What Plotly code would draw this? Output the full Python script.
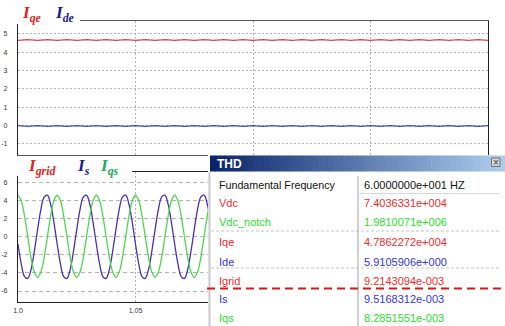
import plotly.graph_objects as go

# ---------------- data ----------------
t_top = [round(1.0 + i / 240, 6) for i in range(49)]
iqe = [4.64, 4.68, 4.64, 4.68, 4.64, 4.68, 4.64, 4.68, 4.64, 4.68,
       4.64, 4.68, 4.64, 4.68, 4.64, 4.68, 4.64, 4.68, 4.64, 4.68,
       4.64, 4.68, 4.64, 4.68, 4.64, 4.68, 4.64, 4.68, 4.64, 4.68,
       4.64, 4.68, 4.64, 4.68, 4.64, 4.68, 4.64, 4.68, 4.64, 4.68,
       4.64, 4.68, 4.64, 4.68, 4.64, 4.68, 4.64, 4.68, 4.64]
ide = [0.00, -0.04, 0.00, -0.04, 0.00, -0.04, 0.00, -0.04, 0.00, -0.04,
       0.00, -0.04, 0.00, -0.04, 0.00, -0.04, 0.00, -0.04, 0.00, -0.04,
       0.00, -0.04, 0.00, -0.04, 0.00, -0.04, 0.00, -0.04, 0.00, -0.04,
       0.00, -0.04, 0.00, -0.04, 0.00, -0.04, 0.00, -0.04, 0.00, -0.04,
       0.00, -0.04, 0.00, -0.04, 0.00, -0.04, 0.00, -0.04, 0.00]

t_bot = [round(1.0 + i / 720, 6) for i in range(73)]
i_s = [-0.8, -3.0, -4.4, -4.6, -3.6, -1.6, 0.8, 3.0, 4.4, 4.6, 3.6, 1.6,
       -0.8, -3.0, -4.4, -4.6, -3.6, -1.6, 0.8, 3.0, 4.4, 4.6, 3.6, 1.6,
       -0.8, -3.0, -4.4, -4.6, -3.6, -1.6, 0.8, 3.0, 4.4, 4.6, 3.6, 1.6,
       -0.8, -3.0, -4.4, -4.6, -3.6, -1.6, 0.8, 3.0, 4.4, 4.6, 3.6, 1.6,
       -0.8, -3.0, -4.4, -4.6, -3.6, -1.6, 0.8, 3.0, 4.4, 4.6, 3.6, 1.6,
       -0.8, -3.0, -4.4, -4.6, -3.6, -1.6, 0.8, 3.0, 4.4, 4.6, 3.6, 1.6,
       -0.8]
i_qs = [4.6, 4.0, 2.3, 0.0, -2.3, -3.9, -4.5, -3.9, -2.3, 0.0, 2.3, 4.0,
        4.6, 4.0, 2.3, 0.0, -2.3, -3.9, -4.5, -3.9, -2.3, 0.0, 2.3, 4.0,
        4.6, 4.0, 2.3, 0.0, -2.3, -3.9, -4.5, -3.9, -2.3, 0.0, 2.3, 4.0,
        4.6, 4.0, 2.3, 0.0, -2.3, -3.9, -4.5, -3.9, -2.3, 0.0, 2.3, 4.0,
        4.6, 4.0, 2.3, 0.0, -2.3, -3.9, -4.5, -3.9, -2.3, 0.0, 2.3, 4.0,
        4.6, 4.0, 2.3, 0.0, -2.3, -3.9, -4.5, -3.9, -2.3, 0.0, 2.3, 4.0,
        4.6]

top_yticks = [5, 4, 3, 2, 1, 0, -1]
bot_yticks = [6, 4, 2, 0, -2, -4, -6]
x_ticks = [1.0, 1.05, 1.10, 1.15]
x_ticktext = ["1.0", "1.05", "", ""]   # the later labels are hidden by the THD window

fund_label = "Fundamental Frequency"
fund_value = "6.0000000e+001 HZ"
thd_names = ["Vdc", "Vdc_notch", "Iqe", "Ide", "Igrid", "Is", "Iqs"]
thd_values = ["7.4036331e+004", "1.9810071e+006", "4.7862272e+004",
              "5.9105906e+000", "9.2143094e-003", "9.5168312e-003",
              "8.2851551e-003"]

# ---------------- styling ----------------
W, H = 505, 326
RED_T, GRN_T, BLU_T = "#f42a2a", "#2cdc2c", "#3434dc"
thd_colors = [RED_T, GRN_T, RED_T, BLU_T, RED_T, BLU_T, GRN_T]


def px(x):
    return x / W


def py(y):
    return 1 - y / H


fig = go.Figure()
fig.add_trace(go.Scatter(x=t_top, y=iqe, mode="lines", line=dict(color="#d04848", width=1.2),
                         xaxis="x", yaxis="y", showlegend=False))
fig.add_trace(go.Scatter(x=t_top, y=ide, mode="lines", line=dict(color="#3c48b0", width=1.2),
                         xaxis="x", yaxis="y", showlegend=False))
fig.add_trace(go.Scatter(x=t_bot, y=i_s, mode="lines", line=dict(color="#4a2eb0", width=1.3, shape="spline"),
                         xaxis="x2", yaxis="y2", showlegend=False))
fig.add_trace(go.Scatter(x=t_bot, y=i_qs, mode="lines", line=dict(color="#4cd84c", width=1.3, shape="spline"),
                         xaxis="x2", yaxis="y2", showlegend=False))

tickfont = dict(family="Liberation Sans, Arial", size=7, color="#333")
grid = dict(showgrid=True, gridcolor="#b4b4b4", gridwidth=1, zeroline=False, automargin=False)

fig.update_layout(
    width=W, height=H,
    margin=dict(l=0, r=0, t=0, b=0),
    paper_bgcolor="white", plot_bgcolor="white",
    xaxis=dict(domain=[px(18), px(488)], range=[1.0, 1.2], anchor="y",
               tickvals=x_ticks, showticklabels=False, ticks="",
               griddash="2px,2px", showline=True, linecolor="#555", linewidth=1, mirror=True, **grid),
    yaxis=dict(domain=[py(155), py(21)], range=[-1.6, 5.69], anchor="x",
               tickvals=top_yticks, ticktext=[str(v) for v in top_yticks], ticks="",
               tickfont=tickfont, ticklabelstandoff=8,
               griddash="2px,2px", showline=True, linecolor="#222", linewidth=1.2, mirror=True, **grid),
    xaxis2=dict(domain=[px(18), px(488)], range=[1.0, 1.2], anchor="y2",
                tickvals=x_ticks, ticktext=x_ticktext, ticks="", tickfont=tickfont,
                ticklabelstandoff=2,
                griddash="2px,2px", showline=True, linecolor="#222", linewidth=1.2, mirror=True, **grid),
    yaxis2=dict(domain=[py(301.5), py(172)], range=[-7.16, 7.17], anchor="x2",
                tickvals=bot_yticks, ticktext=[str(v) for v in bot_yticks], ticks="",
                tickfont=tickfont, ticklabelstandoff=8,
                griddash="4px,3px", showline=True, linecolor="#222", linewidth=1.2, mirror=True, **grid),
)

shapes = []
# white boxes behind the signal-name labels
shapes.append(dict(type="rect", xref="paper", yref="paper", layer="above",
                   x0=px(0), x1=px(80), y0=py(24), y1=py(0), fillcolor="white", line=dict(width=0)))
shapes.append(dict(type="rect", xref="paper", yref="paper", layer="above",
                   x0=px(0), x1=px(132), y0=py(176), y1=py(156.5), fillcolor="white", line=dict(width=0)))

# THD window body
shapes.append(dict(type="rect", xref="paper", yref="paper", layer="above",
                   x0=px(208), x1=px(506), y0=py(327), y1=py(155), fillcolor="white", line=dict(width=0)))
# title bar gradient (strips)
c0, c1 = (10, 36, 106), (172, 204, 238)
n = 60
x_start, x_end = 210, 505
for k in range(n):
    f = k / (n - 1)
    col = "rgb(%d,%d,%d)" % tuple(round(a + (b - a) * f) for a, b in zip(c0, c1))
    xa = x_start + (x_end - x_start) * k / n
    xb = x_start + (x_end - x_start) * (k + 1) / n + 0.6
    shapes.append(dict(type="rect", xref="paper", yref="paper", layer="above",
                       x0=px(xa), x1=px(xb), y0=py(171.5), y1=py(155.5),
                       fillcolor=col, line=dict(width=0)))
# close button
shapes.append(dict(type="rect", xref="paper", yref="paper", layer="above",
                   x0=px(491.5), x1=px(500), y0=py(166.5), y1=py(158),
                   fillcolor="#d8d8d4", line=dict(color="#707070", width=1)))
# window left border and column divider
shapes.append(dict(type="line", xref="paper", yref="paper", layer="above",
                   x0=px(209.5), x1=px(209.5), y0=py(326), y1=py(172),
                   line=dict(color="#c8c8c8", width=2)))
shapes.append(dict(type="line", xref="paper", yref="paper", layer="above",
                   x0=px(358), x1=px(358), y0=py(326), y1=py(176),
                   line=dict(color="#d0d0d0", width=2)))
# row separators
shapes.append(dict(type="line", xref="paper", yref="paper", layer="above",
                   x0=px(357), x1=px(500), y0=py(193.5), y1=py(193.5),
                   line=dict(color="#d8d8d8", width=1)))
for yy in (231, 268):
    shapes.append(dict(type="line", xref="paper", yref="paper", layer="above",
                       x0=px(211), x1=px(500), y0=py(yy), y1=py(yy),
                       line=dict(color="#c4c4c4", width=1, dash="3px,2px")))
# red dashed marker line
shapes.append(dict(type="line", xref="paper", yref="paper", layer="above",
                   x0=px(207), x1=px(505), y0=py(288.5), y1=py(288.5),
                   line=dict(color="#dd1515", width=2, dash="8px,5px")))
fig.update_layout(shapes=shapes)

ann = []
serif = "Liberation Serif, Times New Roman, serif"
sans = "Liberation Sans, Arial, sans-serif"


def label(x, y, txt, color):
    ann.append(dict(xref="paper", yref="paper", x=px(x), y=py(y), xanchor="left", yanchor="middle",
                    text=txt, showarrow=False, font=dict(family=serif, size=17, color=color)))


label(20, 14, "<b><i>I<sub>qe</sub></i></b>", "#e02424")
label(53, 14, "<b><i>I<sub>de</sub></i></b>", "#1c1c86")
label(26, 167, "<b><i>I<sub>grid</sub></i></b>", "#e02424")
label(75, 167, "<b><i>I<sub>s</sub></i></b>", "#1c1c86")
label(98, 167, "<b><i>I<sub>qs</sub></i></b>", "#22a858")

ann.append(dict(xref="paper", yref="paper", x=px(215), y=py(163.5), xanchor="left", yanchor="middle",
                text="<b>THD</b>", showarrow=False, font=dict(family=sans, size=12, color="white")))
ann.append(dict(xref="paper", yref="paper", x=px(495.8), y=py(162.3), xanchor="center", yanchor="middle",
                text="×", showarrow=False, font=dict(family=sans, size=10, color="#333")))

row_y = [185, 203, 222, 242, 261.5, 280.5, 299, 317.5]
ann.append(dict(xref="paper", yref="paper", x=px(216.5), y=py(row_y[0]), xanchor="left", yanchor="middle",
                text=fund_label, showarrow=False, font=dict(family=sans, size=10.7, color="#111")))
ann.append(dict(xref="paper", yref="paper", x=px(361.5), y=py(row_y[0]), xanchor="left", yanchor="middle",
                text=fund_value, showarrow=False, font=dict(family=sans, size=11, color="#111")))
for name, val, col, yy in zip(thd_names, thd_values, thd_colors, row_y[1:]):
    ann.append(dict(xref="paper", yref="paper", x=px(216.5), y=py(yy), xanchor="left", yanchor="middle",
                    text=name, showarrow=False, font=dict(family=sans, size=11, color=col)))
    ann.append(dict(xref="paper", yref="paper", x=px(361.5), y=py(yy), xanchor="left", yanchor="middle",
                    text=val, showarrow=False, font=dict(family=sans, size=11, color=col)))
fig.update_layout(annotations=ann)

fig.write_html("out.html", config={"displayModeBar": False},
               post_script="document.body.style.margin='0';document.body.style.overflow='hidden';")
